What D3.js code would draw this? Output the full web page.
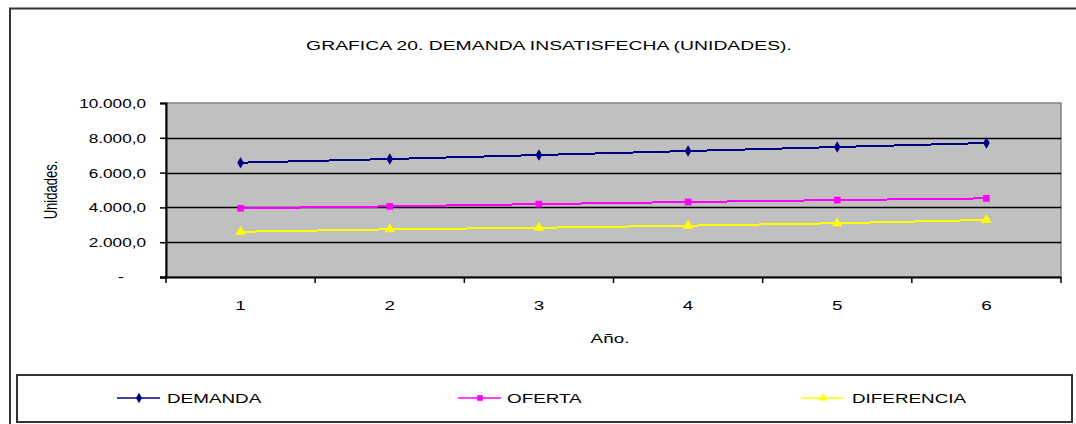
<!DOCTYPE html>
<html>
<head>
<meta charset="utf-8">
<script src="https://cdn.jsdelivr.net/npm/d3@7"></script>
<style>
  html, body { margin: 0; padding: 0; background: #fff; }
  svg { display: block; }
  text { font-family: "Liberation Sans", Arial, sans-serif; fill: #000; }
</style>
</head>
<body>
<svg id="chart" width="1076" height="424"></svg>
<script>
// Chart data
const years = ["1", "2", "3", "4", "5", "6"];
const demanda = [6570, 6780, 7010, 7240, 7470, 7700];
const oferta = [3950, 4060, 4190, 4310, 4420, 4520];
const diferencia = [2600, 2740, 2830, 2950, 3090, 3280];
const yTicks = [0, 2000, 4000, 6000, 8000, 10000];
const seriesNames = ["DEMANDA", "OFERTA", "DIFERENCIA"];
const titleText = "GRAFICA 20. DEMANDA INSATISFECHA (UNIDADES).";
const yTitle = "Unidades.";
const xTitle = "Año.";

const series = [
  { name: seriesNames[0], values: demanda, color: "#000080", symbol: d3.symbolDiamond, size: 38 },
  { name: seriesNames[1], values: oferta, color: "#FF00FF", symbol: d3.symbolSquare, size: 45 },
  { name: seriesNames[2], values: diferencia, color: "#FFFF00", symbol: d3.symbolTriangle, size: 48 }
];

const svg = d3.select("#chart");
const SX = 1.45; // wide glyph look

// Outer chart frame
svg.append("rect")
  .attr("x", 10).attr("y", 8.5).attr("width", 1200).attr("height", 600)
  .attr("fill", "#fff").attr("stroke", "#333").attr("stroke-width", 2);

function wideText(x, y, str, anchor, size, sx) {
  return svg.append("text")
    .attr("transform", `translate(${x},${y}) scale(${sx || SX},1)`)
    .attr("text-anchor", anchor || "start")
    .attr("font-size", size || 13)
    .text(str);
}

// Plot area
const plotL = 166, plotR = 1061, plotT = 103, plotB = 277;

const x = d3.scaleBand().domain(years).range([plotL, plotR]);
const y = d3.scaleLinear().domain([0, 10000]).range([plotB, plotT]);

svg.append("rect")
  .attr("x", plotL).attr("y", plotT).attr("width", plotR - plotL).attr("height", plotB - plotT)
  .attr("fill", "#C0C0C0").attr("stroke", "#808080").attr("stroke-width", 1.5);

// Gridlines
svg.append("g").selectAll("line")
  .data(yTicks.filter(d => d > 0 && d < 10000))
  .join("line")
  .attr("x1", plotL).attr("x2", plotR)
  .attr("y1", d => Math.round(y(d)) + 0.5).attr("y2", d => Math.round(y(d)) + 0.5)
  .attr("stroke", "#000").attr("stroke-width", 1.5);

// Y axis
const yAxis = svg.append("g")
  .attr("transform", `translate(${plotL},0)`)
  .call(d3.axisLeft(y).tickValues(yTicks).tickSize(6).tickFormat(""));
yAxis.select(".domain").attr("stroke", "#000").attr("stroke-width", 2);
yAxis.selectAll(".tick line").attr("stroke", "#000").attr("stroke-width", 1.5);

const fmt = v => {
  if (v === 0) return "-";
  const s = d3.format(",.1f")(v);
  return s.replace(/,/g, "#").replace(".", ",").replace(/#/g, ".");
};
yTicks.forEach(v => {
  if (v === 0) {
    wideText(121, y(v) + 4, "-", "middle", 13);
  } else {
    wideText(146, y(v) + 5, fmt(v), "end", 13, 1.32);
  }
});

// X axis
const boundaries = years.map(d => x(d)).concat([plotR]);
const xAxisG = svg.append("g");
xAxisG.append("line")
  .attr("x1", plotL - 6).attr("x2", plotR)
  .attr("y1", plotB + 0.5).attr("y2", plotB + 0.5)
  .attr("stroke", "#000").attr("stroke-width", 2);
xAxisG.selectAll("line.tk")
  .data(boundaries)
  .join("line").attr("class", "tk")
  .attr("x1", d => d).attr("x2", d => d)
  .attr("y1", plotB).attr("y2", plotB + 6)
  .attr("stroke", "#000").attr("stroke-width", 1.5);
years.forEach(d => wideText(x(d) + x.bandwidth() / 2, 310, d, "middle", 13));

// Axis titles
wideText(610, 343, xTitle, "middle", 13);
svg.append("text")
  .attr("transform", `translate(57,190) rotate(-90) scale(1,${SX})`)
  .attr("text-anchor", "middle")
  .attr("font-size", 13)
  .text(yTitle);

// Title
wideText(549, 50, titleText, "middle", 13, 1.49);

// Series lines and markers
const cx = (d, i) => x(years[i]) + x.bandwidth() / 2;
const line = d3.line().x(cx).y(d => y(d));
series.forEach(s => {
  svg.append("path")
    .datum(s.values)
    .attr("d", line)
    .attr("fill", "none")
    .attr("stroke", s.color)
    .attr("stroke-width", 2)
    .attr("shape-rendering", "crispEdges");
  svg.append("g").selectAll("path")
    .data(s.values)
    .join("path")
    .attr("transform", (d, i) => `translate(${cx(d, i)},${y(d)})`)
    .attr("d", d3.symbol().type(s.symbol).size(s.size))
    .attr("fill", s.color);
});

// Legend
svg.append("rect")
  .attr("x", 17).attr("y", 375).attr("width", 1055).attr("height", 47)
  .attr("fill", "#fff").attr("stroke", "#333").attr("stroke-width", 2);

const legendItems = [
  { lx: 117, tx: 167 },
  { lx: 458, tx: 507 },
  { lx: 801, tx: 852 }
];
series.forEach((s, i) => {
  const li = legendItems[i];
  const ly = 398;
  svg.append("line")
    .attr("x1", li.lx).attr("x2", li.lx + 43)
    .attr("y1", ly).attr("y2", ly)
    .attr("stroke", s.color).attr("stroke-width", 1.5);
  svg.append("path")
    .attr("transform", `translate(${li.lx + 22},${ly})`)
    .attr("d", d3.symbol().type(s.symbol).size(32))
    .attr("fill", s.color);
  wideText(li.tx, ly + 5, s.name, "start", 13);
});
</script>
</body>
</html>
